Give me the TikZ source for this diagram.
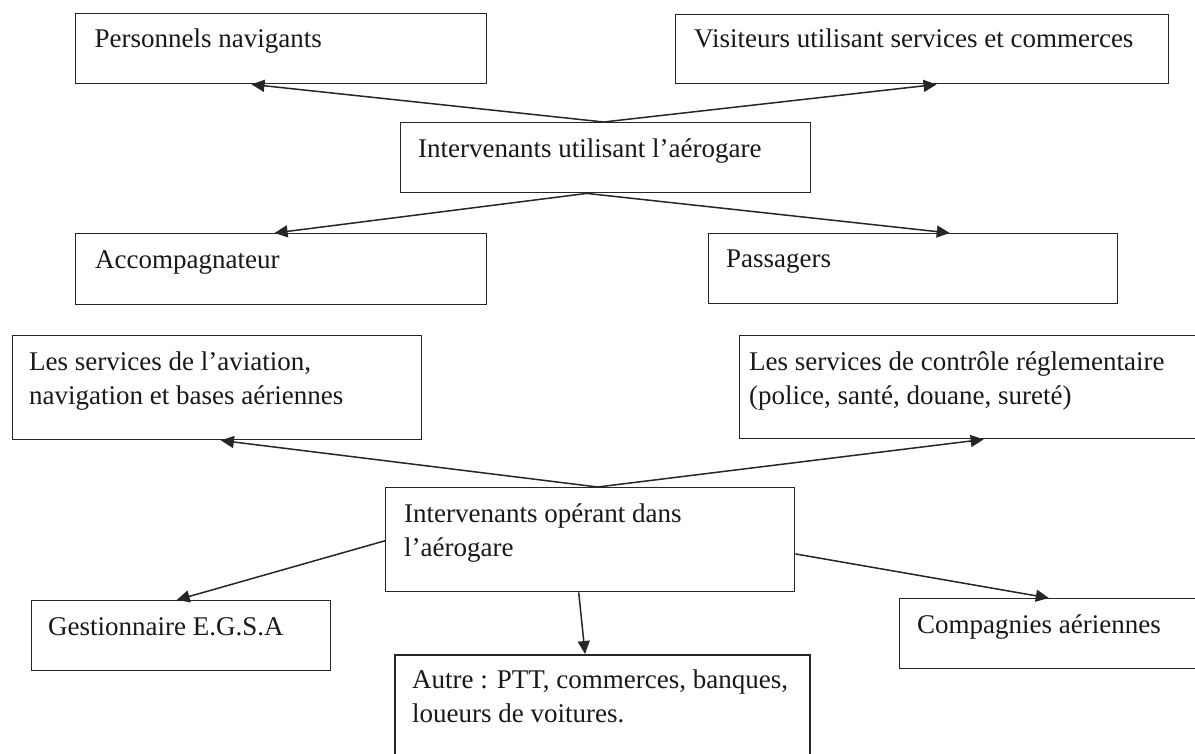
\documentclass[tikz,border=0pt]{standalone}
\usepackage{fontspec}
\setmainfont{Liberation Serif}
\usetikzlibrary{arrows.meta,calc}
\begin{document}
\begin{tikzpicture}[x=1pt,y=-1pt,
  box/.style={draw=black!85,line width=1.4pt,rectangle,inner sep=0pt,anchor=north west},
  thickbox/.style={box,line width=2.2pt},
  txt/.style={anchor=base west,inner sep=0pt,font=\fontsize{27}{34}\selectfont,align=left,text=black!90},
  conn/.style={draw=black!85,line width=1.5pt,-{Triangle[length=13pt,width=12pt]}}]
\useasboundingbox (0,0) rectangle (1195,753);
\clip (0,0) rectangle (1195,753);
\fill[white] (0,0) rectangle (1195,753);
% boxes
\node[box,minimum width=411pt,minimum height=70pt] (pn) at (75,13) {};
\node[box,minimum width=493pt,minimum height=69pt] (vs) at (675,14) {};
\node[box,minimum width=410pt,minimum height=70pt] (iu) at (400,122) {};
\node[box,minimum width=411pt,minimum height=71pt] (ac) at (75,233) {};
\node[box,minimum width=409pt,minimum height=70pt] (pa) at (708,233) {};
\node[box,minimum width=409pt,minimum height=104pt] (av) at (12,335) {};
\node[box,minimum width=470pt,minimum height=103pt] (ct) at (739,335) {};
\node[box,minimum width=409pt,minimum height=104pt] (io) at (385,487) {};
\node[box,minimum width=299pt,minimum height=70pt] (gs) at (31,600) {};
\node[thickbox,minimum width=415pt,minimum height=120pt] (au) at (394,654) {};
\node[box,minimum width=310pt,minimum height=70pt] (cp) at (899,598) {};
% texts
\node[txt] (tpn) at ($(pn.north west)+(19.5pt,-34pt)$) {Personnels navigants};
\node[txt] (tvs) at ($(vs.north west)+(19pt,-33pt)$) {Visiteurs utilisant services et commerces};
\node[txt] (tiu) at ($(iu.north west)+(18pt,-35pt)$) {Intervenants utilisant l’aérogare};
\node[txt] (tac) at ($(ac.north west)+(20pt,-35pt)$) {Accompagnateur};
\node[txt] (tpa) at ($(pa.north west)+(18pt,-34pt)$) {Passagers};
\node[txt] (tav) at ($(av.north west)+(17pt,-69pt)$) {Les services de l’aviation,\\navigation et bases aériennes};
\node[txt] (tct) at ($(ct.north west)+(10pt,-69pt)$) {Les services de contrôle réglementaire\\(police, santé, douane, sureté)};
\node[txt] (tio) at ($(io.north west)+(19pt,-69pt)$) {Intervenants opérant dans\\l’aérogare};
\node[txt] (tgs) at ($(gs.north west)+(17pt,-35pt)$) {Gestionnaire E.G.S.A};
\node[txt] (tau) at ($(au.north west)+(18pt,-68pt)$) {Autre : PTT, commerces, banques,\\loueurs de voitures.};
\node[txt] (tcp) at ($(cp.north west)+(18pt,-35pt)$) {Compagnies aériennes};
% connection points
\coordinate (iuT) at ($(iu.north west)!0.495!(iu.north east)$);
\coordinate (iuB) at ($(iu.south west)!0.454!(iu.south east)$);
\coordinate (ioT) at ($(io.north west)!0.518!(io.north east)$);
\coordinate (ioB) at ($(io.south west)!0.472!(io.south east)$);
\coordinate (ioL) at ($(io.north west)!0.51!(io.south west)$);
\coordinate (ioR) at ($(io.north east)!0.635!(io.south east)$);
% connectors
\draw[conn] (iuT) -- ($(pn.south west)!0.428!(pn.south east)$);
\draw[conn] (iuT) -- ($(vs.south west)!0.529!(vs.south east)$);
\draw[conn] (iuB) -- ($(ac.north west)!0.484!(ac.north east)$);
\draw[conn] (iuB) -- ($(pa.north west)!0.589!(pa.north east)$);
\draw[conn] (ioT) -- ($(av.south west)!0.509!(av.south east)$);
\draw[conn] (ioT) -- ($(ct.south west)!0.519!(ct.south east)$);
\draw[conn] (ioL) -- ($(gs.north west)!0.485!(gs.north east)$);
\draw[conn] (ioR) -- ($(cp.north west)!0.481!(cp.north east)$);
\draw[conn] (ioB) -- ($(au.north west)!0.458!(au.north east)$);
\end{tikzpicture}
\end{document}
